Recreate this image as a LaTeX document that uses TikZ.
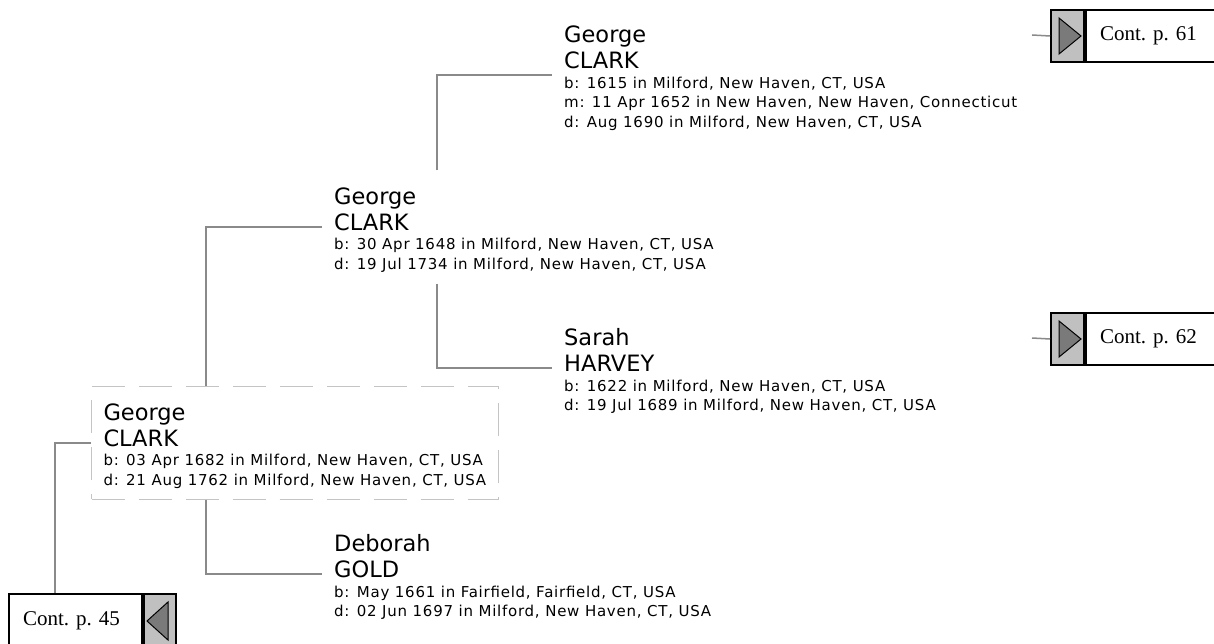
\documentclass[tikz,border=0pt]{standalone}
\usepackage{fontspec}
\usetikzlibrary{positioning,calc}

\newfontfamily\dejavuname{DejaVu Sans}
\newfontfamily\dejavu[LetterSpace=5]{DejaVu Sans}
\newfontfamily\serifcont{Liberation Serif}
\newcommand{\namefont}{\dejavuname\fontsize{22.5}{26}\selectfont}
\newcommand{\infofont}{\dejavu\fontsize{15}{19.5}\selectfont}
\newcommand{\contfont}{\frenchspacing\serifcont\fontsize{21}{24}\selectfont}
\newcommand{\fact}[1]{\hbox{#1}}
\newcommand{\person}[3]{\vbox{\vskip6pt\namefont\hbox{#1}\hbox{#2}\infofont #3}}

\definecolor{linkgray}{HTML}{8A8A8A}
\definecolor{boxgray}{HTML}{C4C4C4}
\definecolor{tabgray}{HTML}{C0C0C0}
\definecolor{arrowgray}{HTML}{7A7A7A}

\tikzset{
	link/.style={linkgray, line width=1.5pt},
	indiv/.style={anchor=west, inner xsep=12pt, inner ysep=11pt, align=left},
	focus/.style={indiv, draw=boxgray, line width=1pt, dash pattern=on 33pt off 14pt},
	contlabel/.style={draw, line width=2pt, fill=white, minimum height=52pt, inner xsep=14pt, inner ysep=0pt, align=left, font=\contfont},
	tab/.style={draw, line width=2pt, fill=tabgray, minimum width=33pt, minimum height=52pt, inner sep=0pt},
	tabright/.style={tab, path picture={
		\draw[fill=arrowgray, line width=1pt] ([shift={(8pt,-8pt)}]path picture bounding box.north west) -- ([shift={(8pt,8pt)}]path picture bounding box.south west) -- ([xshift=-3pt]path picture bounding box.east) -- cycle;}},
	tableft/.style={tab, path picture={
		\draw[fill=arrowgray, line width=1pt] ([shift={(-8pt,-8pt)}]path picture bounding box.north east) -- ([shift={(-8pt,8pt)}]path picture bounding box.south east) -- ([xshift=3pt]path picture bounding box.west) -- cycle;}}
}

\begin{document}
\begin{tikzpicture}[x=1pt, y=-1pt]
	\useasboundingbox (0,0) rectangle (1214,644);

	% people
	\node[focus, inner xsep=12pt] (root) at (91,443) {\person{George}{CLARK}{\fact{b: 03 Apr 1682 in Milford, New Haven, CT, USA\hskip3pt}\fact{d: 21 Aug 1762 in Milford, New Haven, CT, USA}}};
	\node[indiv] (fa) at (322,227) {\person{George}{CLARK}{\fact{b: 30 Apr 1648 in Milford, New Haven, CT, USA}\fact{d: 19 Jul 1734 in Milford, New Haven, CT, USA}}};
	\node[indiv] (mo) at (322,574) {\person{Deborah}{GOLD}{\fact{b: May 1661 in Fairfield, Fairfield, CT, USA}\fact{d: 02 Jun 1697 in Milford, New Haven, CT, USA}}};
	\node[indiv] (gf) at (552,75) {\person{George}{CLARK}{\fact{b: 1615 in Milford, New Haven, CT, USA}\fact{m: 11 Apr 1652 in New Haven, New Haven, Connecticut}\fact{d: Aug 1690 in Milford, New Haven, CT, USA}}};
	\node[indiv] (gm) at (552,368) {\person{Sarah}{HARVEY}{\fact{b: 1622 in Milford, New Haven, CT, USA}\fact{d: 19 Jul 1689 in Milford, New Haven, CT, USA}}};

	% continuation boxes
	\node[tabright, anchor=north west] (t61) at (1050,9) {};
	\node[contlabel, text width=120pt, right=0pt of t61] (c61) {Cont. p. 61};
	\node[tabright, anchor=north west] (t62) at (1050,312) {};
	\node[contlabel, text width=120pt, right=0pt of t62] (c62) {Cont. p. 62};
	\node[contlabel, text width=105pt, minimum height=54pt, anchor=north west] (c45) at (8,593) {Cont. p. 45};
	\node[tableft, minimum width=32pt, minimum height=54pt, right=0pt of c45] (t45) {};
	\coordinate (gf-out) at (1032,35);
	\coordinate (gm-out) at (1032,338);

	% lines
	\draw[link] (root.west) -| ($(c45.north west)+(47,0)$);
	\draw[link] ($(root.north west)+(115,0)$) |- (fa.west);
	\draw[link] ($(root.south west)+(115,0)$) |- (mo.west);
	\draw[link] ($(fa.north west)+(115,0)$) |- (gf.west);
	\draw[link] ($(fa.south west)+(115,0)$) |- (gm.west);
	\draw[link] (gf-out) -- (t61.west);
	\draw[link] (gm-out) -- (t62.west);
\end{tikzpicture}
\end{document}
